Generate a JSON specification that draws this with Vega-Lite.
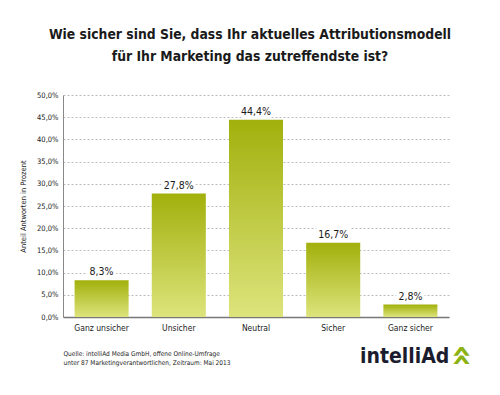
{
  "$schema": "https://vega.github.io/schema/vega-lite/v6.json",
  "width": 386,
  "height": 222,
  "autosize": {"type": "none"},
  "padding": {"left": 63, "top": 95, "right": 51, "bottom": 78},
  "background": "white",
  "config": {
    "locale": {"number": {"decimal": ",", "thousands": ".", "grouping": [3], "currency": ["", " €"]}},
    "font": "DejaVu Sans Condensed, Roboto, sans-serif",
    "view": {"stroke": null}
  },
  "title": {
    "text": ["Wie sicher sind Sie, dass Ihr aktuelles Attributionsmodell", "für Ihr Marketing das zutreffendste ist?"],
    "font": "DejaVu Sans Condensed, Roboto, sans-serif",
    "fontSize": 13.8,
    "fontWeight": "bold",
    "color": "#1a1a1a",
    "lineHeight": 22,
    "anchor": "middle",
    "frame": "group",
    "dx": -6,
    "offset": 27
  },
  "data": {
    "values": [
      {"cat": "Ganz unsicher", "v": 0.083},
      {"cat": "Unsicher", "v": 0.278},
      {"cat": "Neutral", "v": 0.444},
      {"cat": "Sicher", "v": 0.167},
      {"cat": "Ganz sicher", "v": 0.028}
    ]
  },
  "encoding": {
    "x": {
      "field": "cat",
      "type": "nominal",
      "sort": null,
      "scale": {"paddingInner": 0.3, "paddingOuter": 0.15},
      "axis": {
        "labelAngle": 0,
        "labelFontSize": 8.5,
        "labelColor": "#222",
        "labelPadding": 6,
        "ticks": false,
        "domainColor": "#777",
        "domainWidth": 1.5,
        "title": ["Quelle:    intelliAd Media GmbH, offene Online-Umfrage", "unter 87 Marketingverantwortlichen, Zeitraum: Mai 2013"],
        "titleFontSize": 6.5,
        "titleFontWeight": "normal",
        "titleColor": "#222",
        "titleLineHeight": 9.5,
        "titleAnchor": "start",
        "titleAlign": "left",
        "titleBaseline": "alphabetic",
        "titleX": 0,
        "titleY": 38
      }
    },
    "y": {
      "field": "v",
      "type": "quantitative",
      "scale": {"domain": [0, 0.5]},
      "axis": {
        "values": [0, 0.05, 0.1, 0.15, 0.2, 0.25, 0.3, 0.35, 0.4, 0.45, 0.5],
        "format": ".1%",
        "labelFontSize": 7.5,
        "labelColor": "#222",
        "labelPadding": 5,
        "ticks": false,
        "domainColor": "#888",
        "gridColor": "#aaa",
        "gridDash": [2, 2],
        "gridWidth": 0.8,
        "title": "Anteil Antworten in Prozent",
        "titleFontSize": 7.5,
        "titleFontWeight": "normal",
        "titleColor": "#222",
        "titlePadding": 9
      }
    }
  },
  "layer": [
    {
      "mark": {
        "type": "bar",
        "color": {
          "gradient": "linear",
          "x1": 0, "y1": 0, "x2": 0, "y2": 1,
          "stops": [
            {"offset": 0, "color": "#a2b00c"},
            {"offset": 1, "color": "#dde47c"}
          ]
        }
      }
    },
    {
      "mark": {"type": "text", "baseline": "bottom", "dy": -3, "fontSize": 10.5, "stroke": "white", "strokeWidth": 6, "color": "white"},
      "encoding": {"text": {"field": "v", "format": ".1%"}}
    },
    {
      "mark": {"type": "text", "baseline": "bottom", "dy": -3, "fontSize": 10.5, "color": "#1a1a1a"},
      "encoding": {"text": {"field": "v", "format": ".1%"}}
    },
    {
      "transform": [{"filter": "datum.cat === 'Ganz sicher'"}],
      "mark": {"type": "text", "font": "DejaVu Sans Condensed, sans-serif", "fontSize": 21, "fontWeight": "bold", "color": "#1b1d2e", "align": "right", "baseline": "middle", "dx": 39},
      "encoding": {
        "y": {"datum": -0.09},
        "text": {"value": "intelliAd"}
      }
    },
    {
      "transform": [{"filter": "datum.cat === 'Ganz sicher'"}],
      "mark": {"type": "text", "font": "DejaVu Sans", "fontSize": 36, "fontWeight": "bold", "color": "#8db312", "angle": 270, "align": "center", "baseline": "middle", "dx": 1, "dy": 51},
      "encoding": {
        "y": {"datum": -0.09},
        "text": {"value": "»"}
      }
    }
  ]
}
